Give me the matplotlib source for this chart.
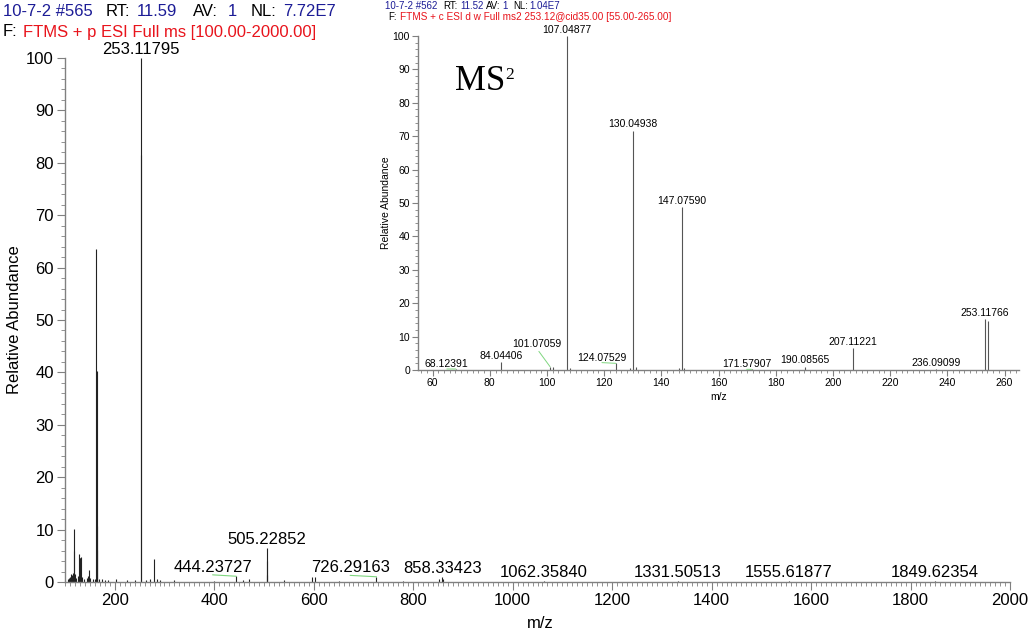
import matplotlib.pyplot as plt
from matplotlib.ticker import MultipleLocator

plt.rcParams['font.family'] = ['Liberation Sans', 'DejaVu Sans']

# full scan: m/z and relative abundance
full_mz = [105.1, 108.0, 110.1, 112.1, 114.1, 116.1, 118.1, 118.4, 120.1, 122.1,
           126.1, 128.2, 130.1, 131.1, 132.2, 134.1, 138.1, 144.1, 146.3, 148.3,
           150.1, 156.1, 160.1, 163.1, 163.4, 163.7, 164.6, 168.1, 175.1, 180.1,
           186.1, 202.1, 225.1, 240.1, 253.11795, 253.5, 263.1, 270.1, 278.6, 284.1,
           290.1, 320.1, 400.1, 444.23727, 458.1, 469.8, 505.22852, 505.6, 506.2, 540.1,
           595.8, 602.1, 650.1, 726.29163, 780.1, 851.3, 858.33423, 860.3, 1062.35840,
           1331.50513, 1555.61877, 1849.62354]
full_int = [0.5, 0.8, 1.0, 1.5, 1.3, 1.8, 10.2, 6.0, 1.6, 0.8,
            1.2, 5.4, 4.6, 4.5, 4.8, 1.0, 0.6, 0.8, 1.2, 2.3,
            0.8, 0.5, 0.6, 63.5, 40.2, 10.6, 6.1, 0.6, 0.5, 0.4,
            0.3, 0.5, 0.3, 0.4, 100.0, 81.5, 0.4, 0.5, 4.4, 0.6,
            0.4, 0.3, 0.2, 1.1, 0.3, 0.6, 6.45, 4.1, 1.3, 0.3,
            0.9, 0.9, 0.2, 1.0, 0.2, 0.5, 0.9, 0.6, 0.15,
            0.15, 0.15, 0.15]
full_labels = [253.11795, 505.22852, 444.23727, 726.29163, 858.33423,
               1062.35840, 1331.50513, 1555.61877, 1849.62354]

# MS2 of 253.12
ms2_mz = [68.12391, 84.04406, 101.07059, 102.1, 107.04877, 108.05, 124.07529, 129.1,
          130.04938, 131.05, 146.1, 147.07590, 148.08, 171.57907, 190.08565,
          207.11221, 236.09099, 253.11766, 254.1]
ms2_int = [0.3, 2.4, 1.0, 0.8, 100.0, 0.7, 2.0, 0.6,
           71.6, 0.8, 0.5, 48.8, 0.7, 0.2, 1.0,
           6.6, 0.2, 15.2, 14.8]
ms2_labels = [68.12391, 84.04406, 101.07059, 107.04877, 124.07529, 130.04938,
              147.07590, 171.57907, 190.08565, 207.11221, 236.09099, 253.11766]

W, H = 1028, 638
BLUE = '#1c1c96'
RED = '#e8141c'
GREEN = '#7fd67f'
AXC = '#808080'

fig = plt.figure(figsize=(W / 100, H / 100), dpi=100)


def px(x, y):
    return x / W, 1 - y / H


def style_axes(ax, fs, major_len, minor_len):
    for s in ['top', 'right']:
        ax.spines[s].set_visible(False)
    for s in ['left', 'bottom']:
        ax.spines[s].set_color(AXC)
        ax.spines[s].set_linewidth(1.0)
    ax.tick_params(which='major', length=major_len, color=AXC, labelsize=fs, pad=2)
    ax.tick_params(which='minor', length=minor_len, color=AXC)
    ax.set_ylim(0, 100)
    ax.yaxis.set_major_locator(MultipleLocator(10))
    ax.yaxis.set_minor_locator(MultipleLocator(2))


# main spectrum
ax = fig.add_axes([65 / W, 1 - 582 / H, 945 / W, 524 / H])
style_axes(ax, 12, 6, 3)
ax.set_xlim(100, 2000)
ax.set_xticks(range(200, 2001, 200))
ax.xaxis.set_minor_locator(MultipleLocator(10))
ax.vlines(full_mz, 0, full_int, color='#222222', lw=0.8, clip_on=False)
ax.set_xlabel('m/z', fontsize=12)
ax.xaxis.set_label_coords(0.503, -0.064)
ax.set_ylabel('Relative Abundance', fontsize=12)
ax.yaxis.set_label_coords(-0.045, 0.5)

main_leader = {444.23727: (-17, 1), 726.29163: (-19, 1)}
for mz in full_labels:
    h = full_int[full_mz.index(mz)]
    dx, dy = main_leader.get(mz, (0, 1))
    arrow = dict(arrowstyle='-', color=GREEN, lw=0.8, shrinkA=0, shrinkB=0,
                 relpos=(0.5, 0)) if mz in main_leader else None
    ax.annotate(f'{mz:.5f}', xy=(mz, h), xytext=(dx, dy), textcoords='offset points',
                ha='center', va='bottom', fontsize=12, arrowprops=arrow,
                annotation_clip=False)

# inset MS2 spectrum
ins = fig.add_axes([418.3 / W, 1 - 370 / H, 600.5 / W, 334 / H])
ins.patch.set_alpha(0)
style_axes(ins, 7.5, 4, 2)
ins.set_xlim(55, 265)
ins.xaxis.set_major_locator(MultipleLocator(20))
ins.xaxis.set_minor_locator(MultipleLocator(2))
ins.vlines(ms2_mz, 0, ms2_int, color='#555555', lw=0.8, clip_on=False)
ins.set_xlabel('m/z', fontsize=7.5)
ins.xaxis.set_label_coords(0.5, -0.066)
ins.set_ylabel('Relative Abundance', fontsize=7.5)
ins.yaxis.set_label_coords(-0.046, 0.5)

ins_leader = {68.12391: (-6.5, 0), 101.07059: (-9.5, 13), 124.07529: (-10, 0.5),
              171.57907: (-3.6, 0)}
for mz in ms2_labels:
    h = ms2_int[ms2_mz.index(mz)]
    dx, dy = ins_leader.get(mz, (0, 1))
    arrow = dict(arrowstyle='-', color=GREEN, lw=0.7, shrinkA=0, shrinkB=0,
                 relpos=(0.5, 0)) if mz in ins_leader else None
    ins.annotate(f'{mz:.5f}', xy=(mz, h), xytext=(dx, dy), textcoords='offset points',
                 ha='center', va='bottom', fontsize=7.5, arrowprops=arrow,
                 annotation_clip=False)

fig.text(*px(455, 90), 'MS', family='Liberation Serif', fontsize=25, va='baseline')
fig.text(*px(505, 79), '2', family='Liberation Serif', fontsize=12.5, va='baseline')

# header lines
main_head = [(3, '10-7-2 #565', BLUE), (106, 'RT:', 'k'), (137, '11.59', BLUE),
             (193, 'AV:', 'k'), (228, '1', BLUE), (251, 'NL:', 'k'), (283, '7.72E7', BLUE)]
for x, s, c in main_head:
    fig.text(*px(x, 12), s, color=c, fontsize=12, va='center')
fig.text(*px(3, 32), 'F:', color='k', fontsize=12, va='center')
fig.text(*px(23, 32), 'FTMS + p ESI Full ms [100.00-2000.00]', color=RED, fontsize=12,
         va='center')

ins_head = [(385, '10-7-2 #562', BLUE), (443, 'RT:', 'k'), (460, '11.52', BLUE),
            (486, 'AV:', 'k'), (502, '1', BLUE), (513, 'NL:', 'k'), (529, '1.04E7', BLUE)]
for x, s, c in ins_head:
    fig.text(*px(x, 6), s, color=c, fontsize=7, va='center')
fig.text(*px(388, 17), 'F:', color='k', fontsize=7, va='center')
fig.text(*px(400, 17), 'FTMS + c ESI d w Full ms2 253.12@cid35.00 [55.00-265.00]',
         color=RED, fontsize=7.2, va='center')

fig.savefig('out.png', dpi=100)
